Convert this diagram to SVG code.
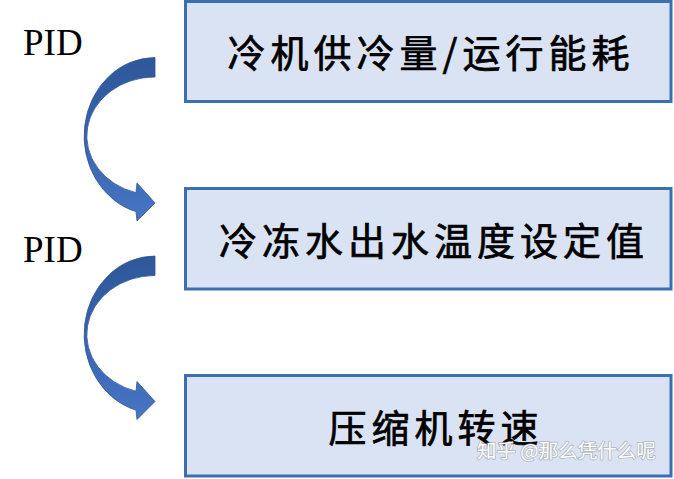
<svg xmlns="http://www.w3.org/2000/svg" width="674" height="479" viewBox="0 0 674 479">
<style>
.box{fill:#dae3f3;stroke:#3b70b0;stroke-width:3}
.cn{font-family:"Noto Sans CJK SC","Noto Sans CJK TC",sans-serif;font-size:38px;fill:#000;stroke:#000;stroke-width:0.7;text-anchor:middle;letter-spacing:5px}
.pid{font-family:"Liberation Serif",serif;font-size:37px;fill:#000}
.arrow{fill:url(#g);stroke:#2f5597;stroke-width:0.8}
.wm{font-family:"Noto Sans CJK SC",sans-serif;font-size:19.5px;fill:#ffffff;stroke:#8c8c8c;stroke-width:1.6;stroke-opacity:0.55;paint-order:stroke}
</style>
<defs>
<linearGradient id="g" x1="0" y1="0" x2="0" y2="1">
<stop offset="0" stop-color="#2e5899"/>
<stop offset="0.5" stop-color="#3863ae"/>
<stop offset="1" stop-color="#4876c4"/>
</linearGradient>
<path id="carrow" d="M155,57.5 A71,78.5 0 0 0 136,211.6 L137,221 L155,203 L137,183 L136,192.7 A68,59 0 0 1 155,77 Z"/>
</defs>
<rect width="674" height="479" fill="#ffffff"/>
<g id="connectors">
<use href="#carrow" class="arrow"/>
<use href="#carrow" class="arrow" transform="translate(0,198.5)"/>
</g>
<g id="label-pid1"><text class="pid" x="23" y="55">PID</text></g>
<g id="label-pid2"><text class="pid" x="23" y="262">PID</text></g>
<g id="node1">
<rect class="box" x="185.5" y="1.5" width="485.5" height="100"/>
<text class="cn" x="431" y="67">冷机供冷量/运行能耗</text>
</g>
<g id="node2">
<rect class="box" x="185.5" y="188.5" width="485.5" height="100.5"/>
<text class="cn" x="434" y="255">冷冻水出水温度设定值</text>
</g>
<g id="node3">
<rect class="box" x="185.5" y="375.5" width="485.5" height="100.5"/>
<text class="cn" x="436" y="442">压缩机转速</text>
</g>
<g id="watermark">
<text class="wm" x="477" y="458">知乎 @那么凭什么呢</text>
</g>
</svg>
